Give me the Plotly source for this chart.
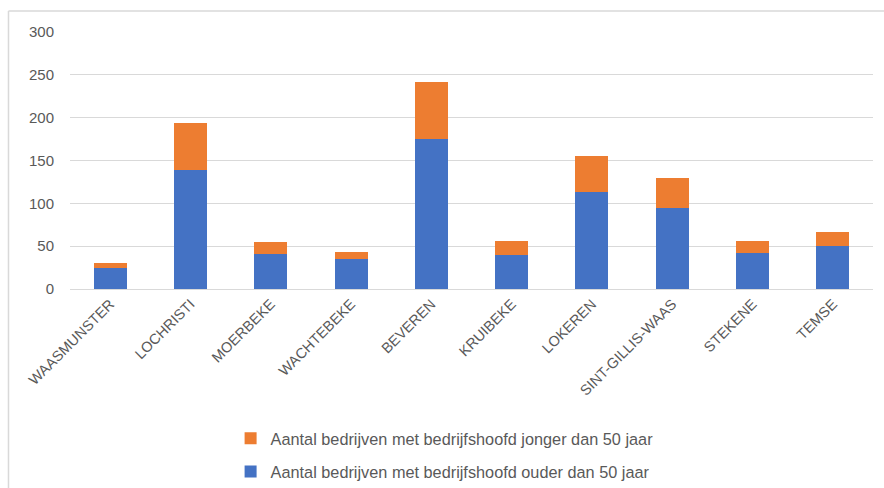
import plotly.graph_objects as go

categories = ["WAASMUNSTER", "LOCHRISTI", "MOERBEKE", "WACHTEBEKE", "BEVEREN",
              "KRUIBEKE", "LOKEREN", "SINT-GILLIS-WAAS", "STEKENE", "TEMSE"]
ouder = [24, 139, 41, 35, 175, 40, 113, 94, 42, 50]
jonger = [6, 55, 14, 8, 67, 16, 42, 35, 14, 16]
name_ouder = "Aantal bedrijven met bedrijfshoofd ouder dan 50 jaar"
name_jonger = "Aantal bedrijven met bedrijfshoofd jonger dan 50 jaar"
y_ticks = [0, 50, 100, 150, 200, 250, 300]

FONT = "Liberation Sans"
GREY = "#595959"

fig = go.Figure()
fig.add_trace(go.Bar(x=categories, y=ouder, name=name_ouder,
                     marker=dict(color="#4472C4", line=dict(width=0)),
                     legendgroup="b", legendrank=2))
fig.add_trace(go.Bar(x=categories, y=jonger, name=name_jonger,
                     marker=dict(color="#ED7D31", line=dict(width=0)),
                     legendgroup="a", legendrank=1))

fig.update_layout(
    width=884, height=488,
    barmode="stack", bargap=0.59,
    paper_bgcolor="white", plot_bgcolor="white",
    margin=dict(l=70, r=11, t=32, b=199, autoexpand=False),
    font=dict(family=FONT, size=14, color=GREY),
    showlegend=True,
    legend=dict(orientation="v", x=0.2, xanchor="left", y=-0.514, yanchor="top",
                traceorder="grouped", tracegroupgap=9,
                font=dict(family=FONT, size=16.3, color=GREY),
                itemwidth=30, bgcolor="rgba(0,0,0,0)"),
    xaxis=dict(showgrid=False, showline=True, linecolor="#d9d9d9", linewidth=1,
               tickangle=-45, tickfont=dict(family=FONT, size=14.5, color=GREY),
               ticks="", automargin=False),
    yaxis=dict(range=[0, 300], tickvals=y_ticks, showgrid=True, gridcolor="#d9d9d9",
               gridwidth=1, zeroline=False, showline=False, automargin=False,
               tickfont=dict(family=FONT, size=15, color=GREY), ticklabelstandoff=15),
)

fig.add_shape(type="line", xref="paper", yref="paper",
              x0=-0.0766, x1=1.02, y0=1.082, y1=1.082,
              line=dict(color="#d9d9d9", width=1.5))
fig.add_shape(type="line", xref="paper", yref="paper",
              x0=-0.0766, x1=-0.0766, y0=1.082, y1=-0.8,
              line=dict(color="#d9d9d9", width=1.5))

fig.write_html("out.html", config={"displayModeBar": False},
               post_script="document.body.style.margin='0';")
